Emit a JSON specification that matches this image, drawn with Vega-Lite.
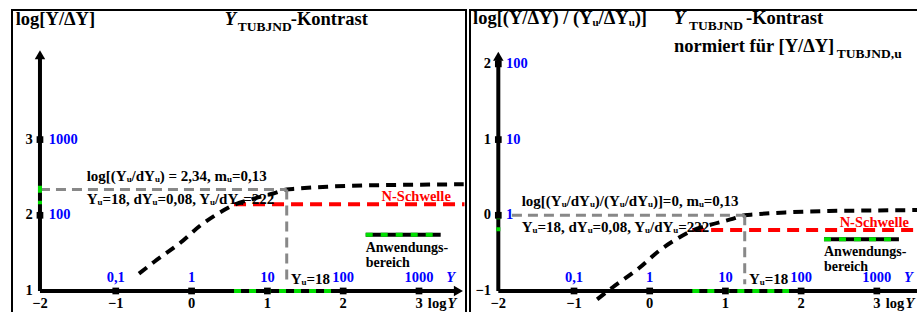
{
"$schema":"https://vega.github.io/schema/vega-lite/v6.json",
"padding":{"left":11,"top":8,"right":0,"bottom":0},
"spacing":4,
"bounds":"flush",
"config":{"view":{"stroke":"black","strokeWidth":2},"text":{"font":"Liberation Serif","fontWeight":"bold","color":"black"},"point":{"opacity":1}},
"datasets":{
"Lgray":[{"x":-2,"y":2.34,"x2":1.255,"y2":2.34},{"x":1.255,"y":2.34,"x2":1.255,"y2":1.097}],
"Lred":[{"x":0.56,"y":2.145,"x2":3.6,"y2":2.145}],
"Lcurve":[{"x":-0.694,"y":1.229},{"x":-0.496,"y":1.383},{"x":-0.144,"y":1.64},{"x":0.12,"y":1.868},{"x":0.384,"y":2.044},{"x":0.556,"y":2.136},{"x":0.819,"y":2.219},{"x":1.066,"y":2.285},{"x":1.255,"y":2.34},{"x":1.374,"y":2.351},{"x":1.792,"y":2.378},{"x":2.363,"y":2.396},{"x":3.023,"y":2.404},{"x":3.59,"y":2.41}],
"Laxis":[{"x":-2,"y":1,"x2":3.5,"y2":1},{"x":-2,"y":1,"x2":-2,"y2":4.1},{"x":2.297,"y":1.744,"x2":3.286,"y2":1.744}],
"Lgreen":[{"x":0.56,"y":1,"x2":1.84,"y2":1},{"x":-2,"y":2.39,"x2":-2,"y2":2.145},{"x":2.297,"y":1.744,"x2":3.286,"y2":1.744}],
"LarrowR":[{"x":3.52,"y":1}],
"LarrowU":[{"x":-2,"y":4.12}],
"Lticks":[{"x":-1,"y":1},{"x":0,"y":1},{"x":1,"y":1},{"x":2,"y":1},{"x":3,"y":1},{"x":-2,"y":2},{"x":-2,"y":3}],
"Ltitle":[{"x":-2.32,"y":4.514,"t":"log[Y/ΔY]"},{"x":1.308,"y":4.514,"t":"-Kontrast"}],
"LtitleI":[{"x":0.437,"y":4.514,"t":"Y"}],
"Lsub":[{"x":0.608,"y":4.44,"t":"TUBJND"}],
"Lanno":[{"x":-1.384,"y":2.453,"t":"log[(Yᵤ/dYᵤ) = 2,34, mᵤ=0,13"},{"x":-1.384,"y":2.149,"t":"Yᵤ=18, dYᵤ=0,08, Yᵤ/dYᵤ=222"},{"x":1.308,"y":1.092,"t":"Yᵤ=18"}],
"Lleg":[{"x":2.297,"y":1.515,"t":"Anwendungs-"},{"x":2.297,"y":1.317,"t":"bereich"}],
"LredT":[{"x":3.42,"y":2.185,"t":"N-Schwelle"}],
"LblueX":[{"x":-1,"y":1.119,"t":"0,1"},{"x":0,"y":1.119,"t":"1"},{"x":1,"y":1.119,"t":"10"},{"x":2,"y":1.119,"t":"100"},{"x":3,"y":1.119,"t":"1000"}],
"LblueYi":[{"x":3.36,"y":1.119,"t":"Y"}],
"Lxlab":[{"x":-2,"y":0.775,"t":"−2"},{"x":-1,"y":0.775,"t":"−1"},{"x":0,"y":0.775,"t":"0"},{"x":1,"y":0.775,"t":"1"},{"x":2,"y":0.775,"t":"2"},{"x":3,"y":0.775,"t":"3"}],
"Llog":[{"x":3.117,"y":0.775,"t":"log"}],
"LlogY":[{"x":3.375,"y":0.775,"t":"Y"}],
"Lylab":[{"x":-2.095,"y":1,"t":"1"},{"x":-2.095,"y":2,"t":"2"},{"x":-2.095,"y":3,"t":"3"}],
"LylabB":[{"x":-1.885,"y":2,"t":"100"},{"x":-1.885,"y":3,"t":"1000"}],
"Rgray":[{"x":-1.82,"y":0,"x2":1.255,"y2":0},{"x":1.255,"y":0,"x2":1.255,"y2":-0.91}],
"Rred":[{"x":0.56,"y":-0.195,"x2":3.544,"y2":-0.195}],
"Rcurve":[{"x":-0.694,"y":-1.111},{"x":-0.496,"y":-0.957},{"x":-0.144,"y":-0.7},{"x":0.12,"y":-0.472},{"x":0.384,"y":-0.296},{"x":0.556,"y":-0.204},{"x":0.819,"y":-0.121},{"x":1.066,"y":-0.055},{"x":1.255,"y":0},{"x":1.374,"y":0.011},{"x":1.792,"y":0.038},{"x":2.363,"y":0.056},{"x":3.023,"y":0.064},{"x":3.59,"y":0.07}],
"Raxis":[{"x":-2,"y":-1,"x2":3.544,"y2":-1},{"x":-2,"y":-1,"x2":-2,"y2":2.08},{"x":2.302,"y":-0.317,"x2":3.292,"y2":-0.317}],
"Rgreen":[{"x":0.563,"y":-1,"x2":1.84,"y2":-1},{"x":-2,"y":0.04,"x2":-2,"y2":-0.21},{"x":2.302,"y":-0.317,"x2":3.292,"y2":-0.317}],
"RarrowU":[{"x":-2,"y":2.1}],
"Rticks":[{"x":-1,"y":-1},{"x":0,"y":-1},{"x":1,"y":-1},{"x":2,"y":-1},{"x":3,"y":-1},{"x":-2,"y":0},{"x":-2,"y":1},{"x":-2,"y":2}],
"Rtitle":[{"x":-2.334,"y":2.527,"t":"log[(Y/ΔY) / (Yᵤ/ΔYᵤ)]"},{"x":1.272,"y":2.527,"t":"-Kontrast"},{"x":0.321,"y":2.157,"t":"normiert für [Y/ΔY]"}],
"RtitleI":[{"x":0.321,"y":2.527,"t":"Y"}],
"Rsub":[{"x":0.519,"y":2.453,"t":"TUBJND"},{"x":2.472,"y":2.083,"t":"TUBJND,u"}],
"Ranno":[{"x":-1.691,"y":0.129,"t":"log[(Yᵤ/dYᵤ)/(Yᵤ/dYᵤ)]=0, mᵤ=0,13"},{"x":-1.691,"y":-0.221,"t":"Yᵤ=18, dYᵤ=0,08, Yᵤ/dYᵤ=222"},{"x":1.312,"y":-0.908,"t":"Yᵤ=18"}],
"Rleg":[{"x":2.302,"y":-0.538,"t":"Anwendungs-"},{"x":2.302,"y":-0.736,"t":"bereich"}],
"RredT":[{"x":3.424,"y":-0.155,"t":"N-Schwelle"}],
"RblueX":[{"x":-1,"y":-0.881,"t":"0,1"},{"x":0,"y":-0.881,"t":"1"},{"x":1,"y":-0.881,"t":"10"},{"x":2,"y":-0.881,"t":"100"},{"x":3,"y":-0.881,"t":"1000"}],
"RblueYi":[{"x":3.36,"y":-0.881,"t":"Y"}],
"Rxlab":[{"x":-2,"y":-1.225,"t":"−2"},{"x":-1,"y":-1.225,"t":"−1"},{"x":0,"y":-1.225,"t":"0"},{"x":1,"y":-1.225,"t":"1"},{"x":2,"y":-1.225,"t":"2"},{"x":3,"y":-1.225,"t":"3"}],
"Rlog":[{"x":3.117,"y":-1.225,"t":"log"}],
"RlogY":[{"x":3.38,"y":-1.225,"t":"Y"}],
"Rylab":[{"x":-2.095,"y":-1,"t":"−1"},{"x":-2.095,"y":0,"t":"0"},{"x":-2.095,"y":1,"t":"1"},{"x":-2.095,"y":2,"t":"2"}],
"RylabB":[{"x":-1.897,"y":0,"t":"1"},{"x":-1.897,"y":1,"t":"10"},{"x":-1.897,"y":2,"t":"100"}]
},
"hconcat":[
{"width":454,"height":303,
"encoding":{"x":{"field":"x","type":"quantitative","scale":{"domain":[-2.369,3.62],"nice":false,"zero":false},"axis":null},"y":{"field":"y","type":"quantitative","scale":{"domain":[0.709,4.712],"nice":false,"zero":false},"axis":null}},
"layer":[
{"data":{"name":"Lred"},"mark":{"type":"rule","color":"#ff0000","strokeWidth":4,"strokeDash":[12,7]},"encoding":{"x2":{"field":"x2"},"y2":{"field":"y2"}}},
{"data":{"name":"Lcurve"},"mark":{"type":"line","color":"black","strokeWidth":4,"strokeDash":[10,7],"interpolate":"monotone","clip":true},"encoding":{}},
{"data":{"name":"Lgray"},"mark":{"type":"rule","color":"#888888","strokeWidth":3,"strokeDash":[10,6]},"encoding":{"x2":{"field":"x2"},"y2":{"field":"y2"}}},
{"data":{"name":"Laxis"},"mark":{"type":"rule","color":"black","strokeWidth":4},"encoding":{"x2":{"field":"x2"},"y2":{"field":"y2"}}},
{"data":{"name":"Lgreen"},"mark":{"type":"rule","color":"#00e000","strokeWidth":4,"strokeDash":[7,8]},"encoding":{"x2":{"field":"x2"},"y2":{"field":"y2"}}},
{"data":{"name":"LarrowR"},"mark":{"type":"point","shape":"triangle-right","filled":true,"color":"black","size":110},"encoding":{}},
{"data":{"name":"LarrowU"},"mark":{"type":"point","shape":"triangle-up","filled":true,"color":"black","size":110},"encoding":{}},
{"data":{"name":"Lticks"},"mark":{"type":"point","shape":"square","filled":true,"color":"black","size":45},"encoding":{}},
{"data":{"name":"Ltitle"},"mark":{"type":"text","font":"Liberation Serif","fontSize":18.5,"align":"left","baseline":"alphabetic"},"encoding":{"text":{"field":"t"}}},
{"data":{"name":"LtitleI"},"mark":{"type":"text","font":"Liberation Serif","fontSize":18.5,"fontStyle":"italic","align":"left","baseline":"alphabetic"},"encoding":{"text":{"field":"t"}}},
{"data":{"name":"Lsub"},"mark":{"type":"text","font":"Liberation Serif","fontSize":13.5,"align":"left","baseline":"alphabetic"},"encoding":{"text":{"field":"t"}}},
{"data":{"name":"Lanno"},"mark":{"type":"text","font":"Liberation Serif","fontSize":15,"align":"left","baseline":"alphabetic"},"encoding":{"text":{"field":"t"}}},
{"data":{"name":"Lleg"},"mark":{"type":"text","font":"Liberation Serif","fontSize":14,"align":"left","baseline":"alphabetic"},"encoding":{"text":{"field":"t"}}},
{"data":{"name":"LredT"},"mark":{"type":"text","font":"Liberation Serif","fontSize":14.5,"align":"right","baseline":"alphabetic","color":"#ff0000"},"encoding":{"text":{"field":"t"}}},
{"data":{"name":"LblueX"},"mark":{"type":"text","font":"Liberation Serif","fontSize":14.5,"align":"center","baseline":"alphabetic","color":"#0000ff"},"encoding":{"text":{"field":"t"}}},
{"data":{"name":"LblueYi"},"mark":{"type":"text","font":"Liberation Serif","fontSize":14.5,"fontStyle":"italic","align":"left","baseline":"alphabetic","color":"#0000ff"},"encoding":{"text":{"field":"t"}}},
{"data":{"name":"Lxlab"},"mark":{"type":"text","font":"Liberation Serif","fontSize":14.5,"align":"center","baseline":"alphabetic"},"encoding":{"text":{"field":"t"}}},
{"data":{"name":"Llog"},"mark":{"type":"text","font":"Liberation Serif","fontSize":14.5,"align":"left","baseline":"alphabetic"},"encoding":{"text":{"field":"t"}}},
{"data":{"name":"LlogY"},"mark":{"type":"text","font":"Liberation Serif","fontSize":14.5,"fontStyle":"italic","align":"left","baseline":"alphabetic"},"encoding":{"text":{"field":"t"}}},
{"data":{"name":"Lylab"},"mark":{"type":"text","font":"Liberation Serif","fontSize":14.5,"align":"right","baseline":"middle"},"encoding":{"text":{"field":"t"}}},
{"data":{"name":"LylabB"},"mark":{"type":"text","font":"Liberation Serif","fontSize":14.5,"align":"left","baseline":"middle","color":"#0000ff"},"encoding":{"text":{"field":"t"}}}
]},
{"width":448,"height":303,
"encoding":{"x":{"field":"x","type":"quantitative","scale":{"domain":[-2.374,3.544],"nice":false,"zero":false},"axis":null},"y":{"field":"y","type":"quantitative","scale":{"domain":[-1.291,2.712],"nice":false,"zero":false},"axis":null}},
"layer":[
{"data":{"name":"Rred"},"mark":{"type":"rule","color":"#ff0000","strokeWidth":4,"strokeDash":[12,7]},"encoding":{"x2":{"field":"x2"},"y2":{"field":"y2"}}},
{"data":{"name":"Rcurve"},"mark":{"type":"line","color":"black","strokeWidth":4,"strokeDash":[10,7],"interpolate":"monotone","clip":true},"encoding":{}},
{"data":{"name":"Rgray"},"mark":{"type":"rule","color":"#888888","strokeWidth":3,"strokeDash":[10,6]},"encoding":{"x2":{"field":"x2"},"y2":{"field":"y2"}}},
{"data":{"name":"Raxis"},"mark":{"type":"rule","color":"black","strokeWidth":4},"encoding":{"x2":{"field":"x2"},"y2":{"field":"y2"}}},
{"data":{"name":"Rgreen"},"mark":{"type":"rule","color":"#00e000","strokeWidth":4,"strokeDash":[7,8]},"encoding":{"x2":{"field":"x2"},"y2":{"field":"y2"}}},
{"data":{"name":"RarrowU"},"mark":{"type":"point","shape":"triangle-up","filled":true,"color":"black","size":110},"encoding":{}},
{"data":{"name":"Rticks"},"mark":{"type":"point","shape":"square","filled":true,"color":"black","size":45},"encoding":{}},
{"data":{"name":"Rtitle"},"mark":{"type":"text","font":"Liberation Serif","fontSize":18.5,"align":"left","baseline":"alphabetic"},"encoding":{"text":{"field":"t"}}},
{"data":{"name":"RtitleI"},"mark":{"type":"text","font":"Liberation Serif","fontSize":18.5,"fontStyle":"italic","align":"left","baseline":"alphabetic"},"encoding":{"text":{"field":"t"}}},
{"data":{"name":"Rsub"},"mark":{"type":"text","font":"Liberation Serif","fontSize":13.5,"align":"left","baseline":"alphabetic"},"encoding":{"text":{"field":"t"}}},
{"data":{"name":"Ranno"},"mark":{"type":"text","font":"Liberation Serif","fontSize":15,"align":"left","baseline":"alphabetic"},"encoding":{"text":{"field":"t"}}},
{"data":{"name":"Rleg"},"mark":{"type":"text","font":"Liberation Serif","fontSize":14,"align":"left","baseline":"alphabetic"},"encoding":{"text":{"field":"t"}}},
{"data":{"name":"RredT"},"mark":{"type":"text","font":"Liberation Serif","fontSize":14.5,"align":"right","baseline":"alphabetic","color":"#ff0000"},"encoding":{"text":{"field":"t"}}},
{"data":{"name":"RblueX"},"mark":{"type":"text","font":"Liberation Serif","fontSize":14.5,"align":"center","baseline":"alphabetic","color":"#0000ff"},"encoding":{"text":{"field":"t"}}},
{"data":{"name":"RblueYi"},"mark":{"type":"text","font":"Liberation Serif","fontSize":14.5,"fontStyle":"italic","align":"left","baseline":"alphabetic","color":"#0000ff"},"encoding":{"text":{"field":"t"}}},
{"data":{"name":"Rxlab"},"mark":{"type":"text","font":"Liberation Serif","fontSize":14.5,"align":"center","baseline":"alphabetic"},"encoding":{"text":{"field":"t"}}},
{"data":{"name":"Rlog"},"mark":{"type":"text","font":"Liberation Serif","fontSize":14.5,"align":"left","baseline":"alphabetic"},"encoding":{"text":{"field":"t"}}},
{"data":{"name":"RlogY"},"mark":{"type":"text","font":"Liberation Serif","fontSize":14.5,"fontStyle":"italic","align":"left","baseline":"alphabetic"},"encoding":{"text":{"field":"t"}}},
{"data":{"name":"Rylab"},"mark":{"type":"text","font":"Liberation Serif","fontSize":14.5,"align":"right","baseline":"middle"},"encoding":{"text":{"field":"t"}}},
{"data":{"name":"RylabB"},"mark":{"type":"text","font":"Liberation Serif","fontSize":14.5,"align":"left","baseline":"middle","color":"#0000ff"},"encoding":{"text":{"field":"t"}}}
]}
]
}
